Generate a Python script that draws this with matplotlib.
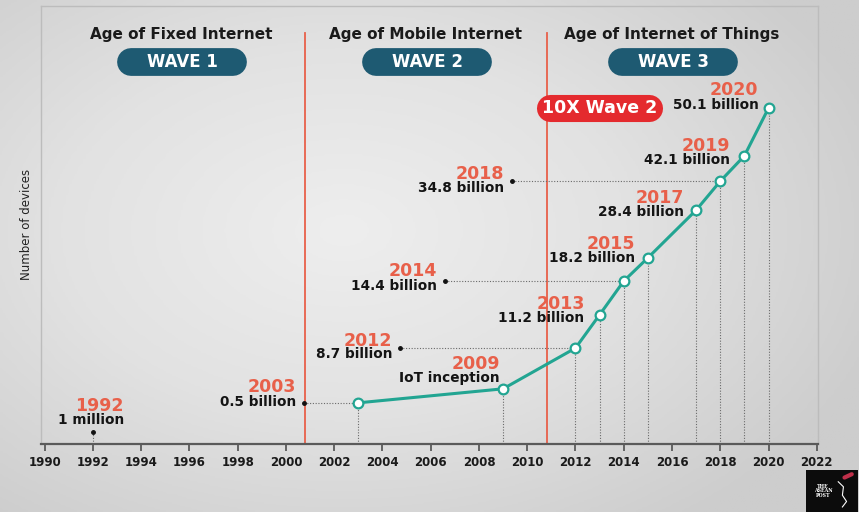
import numpy as np
import matplotlib.pyplot as plt
from matplotlib.colors import LinearSegmentedColormap

# values (levels are the drawn heights, 0-100 scale)
years = [1992, 2003, 2009, 2012, 2013, 2014, 2015, 2017, 2018, 2019, 2020]
levels = [2.7, 9.4, 12.6, 21.9, 29.5, 37.2, 42.5, 53.4, 60.0, 65.8, 76.7]
value_labels = ['1 million', '0.5 billion', 'IoT inception', '8.7 billion', '11.2 billion',
                '14.4 billion', '18.2 billion', '28.4 billion', '34.8 billion',
                '42.1 billion', '50.1 billion']
wave_titles = ['Age of Fixed Internet', 'Age of Mobile Internet', 'Age of Internet of Things']
wave_names = ['WAVE 1', 'WAVE 2', 'WAVE 3']
wave_bounds = [2001, 2011]
xticks = list(range(1990, 2023, 2))

# label layout (pixel offsets from each point): right edge dx, year dy, value dy, leader line
label_dx = [31, -62, -3, -183, -15, -187, -13, -12, -216, -14, -10]
year_dy = [26, 16, 25, 7, 11, 10, 14, 12, 7, 10, 18]
value_dy = [12, 1, 11, -6, -3, -5, 0, -2, -7, -4, 3]
leader = [False, True, False, True, False, True, False, False, True, False, False]

teal = '#22A592'
coral = '#E8604A'
navy = '#1E5A72'
red = '#E42A2E'

fig = plt.figure(figsize=(8.59, 5.12), dpi=100)

# soft gray background
bg = fig.add_axes([0, 0, 1, 1], zorder=-5)
gx, gy = np.meshgrid(np.linspace(-1, 1, 300), np.linspace(-1, 1, 200))
r = np.sqrt(((gx + 0.2) / 1.2) ** 2 + ((gy + 0.1) / 1.3) ** 2)
greys = LinearSegmentedColormap.from_list('bg', ['#eeeeee', '#e2e2e2', '#cdcdcd'])
bg.imshow(r, cmap=greys, vmin=0, vmax=1.1, aspect='auto', extent=[0, 1, 0, 1])
bg.axis('off')

ax = fig.add_axes([41 / 859, 68 / 512, 777 / 859, 438 / 512])
ax.patch.set_alpha(0)
ax.set_xlim(1989.85, 2022.05)
ax.set_ylim(0, 100)

for side in ['left', 'top', 'right']:
    ax.spines[side].set_color('#bcbcbc')
    ax.spines[side].set_linewidth(1)
ax.spines['bottom'].set_color('#5a5a5a')
ax.spines['bottom'].set_linewidth(1.6)
ax.set_yticks([])
ax.set_xticks(xticks)
ax.tick_params(axis='x', length=5, width=1.3, color='#5a5a5a', pad=4,
               labelsize=8.5, labelcolor='#1a1a1a')
for lab in ax.get_xticklabels():
    lab.set_fontweight('bold')

fig.text(27 / 859, 1 - 224 / 512, 'Number of devices', rotation=90,
         ha='center', va='center', fontsize=8.5, color='#222222')

# wave boundaries
for b in wave_bounds:
    ax.axvline(b - 0.2, ymin=0, ymax=0.938, color=coral, lw=1.3, zorder=1)

# headers and pills
xt = ax.get_xaxis_transform()
wave_centers = [1995.7, 2005.85, 2016.05]
for cx, title, name in zip(wave_centers, wave_titles, wave_names):
    ax.text(cx - 0.05, 0.936, title, transform=xt, ha='center', va='center',
            fontsize=11, fontweight='bold', color='#1a1a1a')
    ax.plot([cx - 2.12, cx + 2.12], [0.872, 0.872], transform=xt, color=navy,
            lw=20, solid_capstyle='round', zorder=3)
    ax.text(cx, 0.872, name, transform=xt, ha='center', va='center',
            fontsize=12, fontweight='bold', color='white', zorder=4)

ax.plot([2010.95, 2015.05], [0.767, 0.767], transform=xt, color=red,
        lw=19.5, solid_capstyle='round', zorder=3)
ax.text(2013.0, 0.767, '10X Wave 2', transform=xt, ha='center', va='center',
        fontsize=12.5, fontweight='bold', color='white', zorder=4)

# dotted drop lines
for x, y in zip(years, levels):
    ax.plot([x, x], [0, y], ls=(0, (1, 1.5)), color='#6a6a6a', lw=0.8, zorder=1)

# growth line (from 2003 onward)
ax.plot(years[1:], levels[1:], color=teal, lw=2.2, marker='o', ms=7,
        mfc='white', mec=teal, mew=1.6, zorder=5)
ax.plot(years[0], levels[0], 'o', color='#111111', ms=2.5, zorder=5)

for i, (x, y) in enumerate(zip(years, levels)):
    ax.annotate(str(x), (x, y), xytext=(label_dx[i], year_dy[i]),
                textcoords='offset pixels', ha='right', va='center',
                fontsize=12.5, fontweight='bold', color=coral, zorder=6)
    ax.annotate(value_labels[i], (x, y), xytext=(label_dx[i], value_dy[i]),
                textcoords='offset pixels', ha='right', va='center',
                fontsize=9.8, fontweight='bold', color='#141414', zorder=6)
    if leader[i]:
        # leader dot + dotted line back to the point
        px, py = ax.transData.transform((x, y))
        dx, _ = ax.transData.inverted().transform((px + label_dx[i] + 8, py))
        ax.plot([dx, x], [y, y], ls=(0, (1, 1.5)), color='#6a6a6a', lw=0.8, zorder=1)
        ax.plot(dx, y, 'o', color='#111111', ms=2.5, zorder=5)

# publisher mark
logo = fig.add_axes([806 / 859, 0, 52 / 859, 42 / 512])
logo.set_facecolor('#0c0c0c')
logo.set_xlim(0, 1)
logo.set_ylim(0, 1)
logo.set_xticks([])
logo.set_yticks([])
for s in logo.spines.values():
    s.set_visible(False)
logo.text(0.33, 0.5, 'THE\nASEAN\nPOST', ha='center', va='center', fontsize=3.4,
          color='white', family='DejaVu Serif', fontweight='bold', linespacing=0.9)
logo.plot([0.62, 0.72, 0.7, 0.78, 0.7], [0.72, 0.6, 0.4, 0.25, 0.12], color='white', lw=0.8)
logo.plot([0.74, 0.88], [0.82, 0.9], color='#c0304a', lw=3, solid_capstyle='round')

fig.savefig('out.png', dpi=100)
